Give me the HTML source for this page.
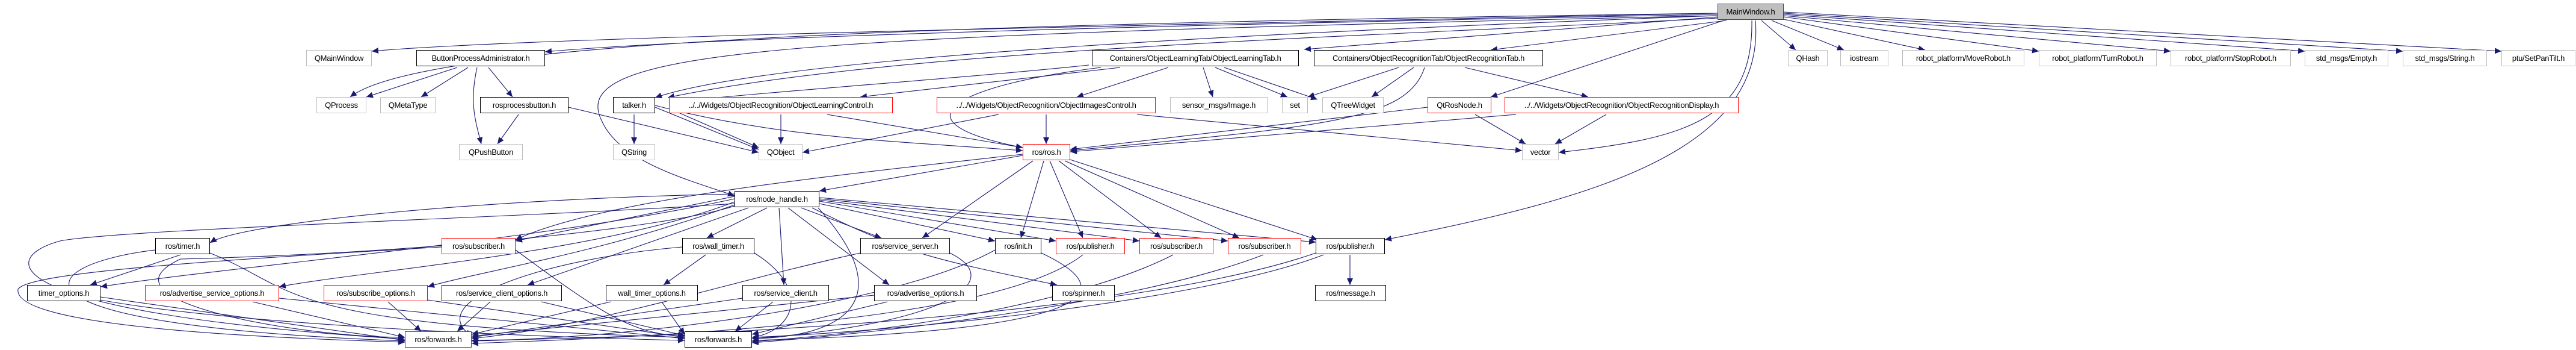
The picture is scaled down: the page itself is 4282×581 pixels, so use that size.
<!DOCTYPE html>
<html><head><meta charset="utf-8"><style>
body{margin:0;width:4282px;height:581px;background:#fff;position:relative;overflow:hidden;font-family:"Liberation Sans",sans-serif}
.n{position:absolute;height:27px;box-sizing:border-box;border:1px solid #000;background:#fff;display:flex;align-items:center;justify-content:center;font-size:13px;color:#000;white-space:nowrap;letter-spacing:-0.3px}
.g{border-color:#bfbfbf}.r{border-color:#f00}
svg{position:absolute;left:0;top:0}
</style></head><body>
<svg width="4282" height="581" viewBox="0 0 4282 581">
<defs><marker id="a" markerUnits="userSpaceOnUse" markerWidth="12" markerHeight="10" refX="11" refY="5" orient="auto"><path d="M0,0 L11,5 L0,10 z" fill="#191970"/></marker></defs>
<g fill="none" stroke="#191970" stroke-width="1.1" marker-end="url(#a)">
<path d="M2855,22 C2000,40 900,60 618,85"/>
<path d="M2855,22 C1500,40 700,70 582,161"/>
<path d="M2855,24 C2000,40 1200,60 906,86"/>
<path d="M2855,26 C2200,50 1300,90 1089,162"/>
<path d="M2855,26 C1300,60 940,80 1000,200 C1030,270 1150,300 1221,325"/>
<path d="M2856,28 L2168,82"/>
<path d="M2870,34 L2478,83"/>
<path d="M2865,34 L2478,161"/>
<path d="M2912,34 C2915,200 2800,230 2591,253"/>
<path d="M2918,34 C2935,250 2650,330 2302,398"/>
<path d="M2928,34 L2985,83"/>
<path d="M2945,34 L3065,83"/>
<path d="M2965,32 L3200,83"/>
<path d="M2965,28 L3389,85"/>
<path d="M2965,26 L3608,85"/>
<path d="M2965,24 L3831,85"/>
<path d="M2965,22 L3994,85"/>
<path d="M2965,20 L4158,85"/>
<path d="M2855,30 C2300,60 1500,80 1110,162"/>
<path d="M760,112 L609,161"/>
<path d="M778,112 L700,161"/>
<path d="M812,112 L852,161"/>
<path d="M793,112 C780,170 790,200 800,239"/>
<path d="M862,190 L827,239"/>
<path d="M945,178 L1261,253"/>
<path d="M1054,190 L1054,239"/>
<path d="M1089,178 L1261,248"/>
<path d="M1089,175 C1300,230 1500,235 1700,250"/>
<path d="M1862,112 L1430,161"/>
<path d="M1942,112 L1790,161"/>
<path d="M2000,112 L2016,161"/>
<path d="M2020,112 L2140,161"/>
<path d="M2035,112 L2190,165"/>
<path d="M1830,112 C1600,140 1470,200 1700,245"/>
<path d="M1810,108 C1600,130 1300,150 1112,170"/>
<path d="M2325,112 L2174,161"/>
<path d="M2350,112 L2280,161"/>
<path d="M2368,112 C2340,200 2200,210 1779,250"/>
<path d="M2435,112 L2640,161"/>
<path d="M1298,190 L1298,239"/>
<path d="M1375,190 L1700,245"/>
<path d="M1112,180 L1261,245"/>
<path d="M1660,190 L1334,253"/>
<path d="M1739,190 L1739,239"/>
<path d="M1890,190 L2530,250"/>
<path d="M2373,178 L1779,248"/>
<path d="M2452,190 L2536,239"/>
<path d="M2520,190 L1779,252"/>
<path d="M2670,190 L2585,239"/>
<path d="M1700,258 L1362,317"/>
<path d="M1700,256 C1400,290 1000,330 857,398"/>
<path d="M1717,267 L1533,395"/>
<path d="M1735,267 L1697,395"/>
<path d="M1745,267 L1800,395"/>
<path d="M1760,267 L1930,395"/>
<path d="M1770,267 L2060,395"/>
<path d="M1779,265 L2190,398"/>
<path d="M1221,322 C800,330 400,370 349,403"/>
<path d="M1221,326 L857,400"/>
<path d="M1275,345 L1175,395"/>
<path d="M1332,345 L1465,395"/>
<path d="M1362,338 L1654,400"/>
<path d="M1362,334 L1755,400"/>
<path d="M1362,332 L1894,400"/>
<path d="M1362,330 L2041,400"/>
<path d="M1362,328 L2187,402"/>
<path d="M1221,330 C900,400 400,440 167,476"/>
<path d="M1221,335 C1000,420 600,450 464,476"/>
<path d="M1221,340 C1000,420 800,450 711,476"/>
<path d="M1244,345 L877,473"/>
<path d="M1295,345 L1303,473"/>
<path d="M1310,345 L1478,473"/>
<path d="M1350,345 C1500,420 1550,430 1757,473"/>
<path d="M1221,338 C900,360 200,380 100,400 C-10,430 0,520 673,563"/>
<path d="M1221,342 C1100,380 700,420 300,430 C150,500 500,560 673,560"/>
<path d="M1360,345 C1500,500 1400,560 1250,562"/>
<path d="M300,423 L150,473"/>
<path d="M349,420 C500,480 450,540 1138,560"/>
<path d="M258,415 C50,440 -20,540 673,566"/>
<path d="M857,415 C1000,520 1050,555 1138,558"/>
<path d="M734,410 C400,430 50,450 30,480 C20,540 400,560 673,568"/>
<path d="M1173,423 L1103,473"/>
<path d="M1254,420 C1350,480 1320,550 1250,560"/>
<path d="M1134,410 C900,430 700,500 784,558"/>
<path d="M1430,420 C1200,470 1000,540 784,562"/>
<path d="M1579,420 C1680,470 1560,540 1250,562"/>
<path d="M1731,420 C1880,490 1800,550 1250,565"/>
<path d="M1654,415 C1500,500 1100,560 784,566"/>
<path d="M1800,423 C1700,500 1400,550 784,570"/>
<path d="M1950,423 C1800,500 1500,550 1250,567"/>
<path d="M2100,423 C1900,500 1500,550 1250,569"/>
<path d="M2200,423 C2000,500 1500,550 1250,560"/>
<path d="M2244,423 L2244,473"/>
<path d="M2187,420 C1900,520 1200,560 784,565"/>
<path d="M167,493 L673,565"/>
<path d="M167,498 C400,540 900,560 1138,565"/>
<path d="M420,501 L673,560"/>
<path d="M464,495 L1138,562"/>
<path d="M645,501 L700,550"/>
<path d="M711,498 L1138,560"/>
<path d="M815,501 L760,550"/>
<path d="M900,501 L1138,557"/>
<path d="M1015,501 L784,555"/>
<path d="M1100,501 L1138,555"/>
<path d="M1285,501 L1222,550"/>
<path d="M1234,495 L784,560"/>
<path d="M1475,501 L1250,555"/>
<path d="M1453,490 L784,558"/>
</g>
</svg>
<div class="n g" style="left:2855px;top:6px;width:110px;background:#bfbfbf;border-color:#404040">MainWindow.h</div>
<div class="n g" style="left:509px;top:83px;width:109px">QMainWindow</div>
<div class="n" style="left:692px;top:83px;width:214px">ButtonProcessAdministrator.h</div>
<div class="n" style="left:1815px;top:83px;width:344px">Containers/ObjectLearningTab/ObjectLearningTab.h</div>
<div class="n" style="left:2184px;top:83px;width:381px">Containers/ObjectRecognitionTab/ObjectRecognitionTab.h</div>
<div class="n g" style="left:2972px;top:83px;width:66px">QHash</div>
<div class="n g" style="left:3059px;top:83px;width:80px">iostream</div>
<div class="n g" style="left:3162px;top:83px;width:203px">robot_platform/MoveRobot.h</div>
<div class="n g" style="left:3389px;top:83px;width:196px">robot_platform/TurnRobot.h</div>
<div class="n g" style="left:3608px;top:83px;width:200px">robot_platform/StopRobot.h</div>
<div class="n g" style="left:3831px;top:83px;width:139px">std_msgs/Empty.h</div>
<div class="n g" style="left:3994px;top:83px;width:140px">std_msgs/String.h</div>
<div class="n g" style="left:4158px;top:83px;width:123px">ptu/SetPanTilt.h</div>
<div class="n g" style="left:526px;top:161px;width:83px">QProcess</div>
<div class="n g" style="left:632px;top:161px;width:92px">QMetaType</div>
<div class="n" style="left:798px;top:161px;width:147px">rosprocessbutton.h</div>
<div class="n" style="left:1019px;top:161px;width:70px">talker.h</div>
<div class="n r" style="left:1112px;top:161px;width:372px">../../Widgets/ObjectRecognition/ObjectLearningControl.h</div>
<div class="n r" style="left:1557px;top:161px;width:364px">../../Widgets/ObjectRecognition/ObjectImagesControl.h</div>
<div class="n g" style="left:1945px;top:161px;width:162px">sensor_msgs/Image.h</div>
<div class="n g" style="left:2131px;top:161px;width:43px">set</div>
<div class="n g" style="left:2198px;top:161px;width:102px">QTreeWidget</div>
<div class="n r" style="left:2373px;top:161px;width:106px">QtRosNode.h</div>
<div class="n r" style="left:2501px;top:161px;width:389px">../../Widgets/ObjectRecognition/ObjectRecognitionDisplay.h</div>
<div class="n g" style="left:763px;top:239px;width:106px">QPushButton</div>
<div class="n g" style="left:1019px;top:239px;width:70px">QString</div>
<div class="n g" style="left:1261px;top:239px;width:73px">QObject</div>
<div class="n r" style="left:1700px;top:239px;width:79px">ros/ros.h</div>
<div class="n g" style="left:2530px;top:239px;width:61px">vector</div>
<div class="n" style="left:1221px;top:317px;width:141px">ros/node_handle.h</div>
<div class="n" style="left:258px;top:395px;width:91px">ros/timer.h</div>
<div class="n r" style="left:734px;top:395px;width:123px">ros/subscriber.h</div>
<div class="n" style="left:1134px;top:395px;width:120px">ros/wall_timer.h</div>
<div class="n" style="left:1430px;top:395px;width:149px">ros/service_server.h</div>
<div class="n" style="left:1654px;top:395px;width:77px">ros/init.h</div>
<div class="n r" style="left:1755px;top:395px;width:115px">ros/publisher.h</div>
<div class="n r" style="left:1894px;top:395px;width:123px">ros/subscriber.h</div>
<div class="n r" style="left:2041px;top:395px;width:122px">ros/subscriber.h</div>
<div class="n" style="left:2187px;top:395px;width:115px">ros/publisher.h</div>
<div class="n" style="left:45px;top:473px;width:122px">timer_options.h</div>
<div class="n r" style="left:241px;top:473px;width:223px">ros/advertise_service_options.h</div>
<div class="n r" style="left:538px;top:473px;width:173px">ros/subscribe_options.h</div>
<div class="n" style="left:734px;top:473px;width:200px">ros/service_client_options.h</div>
<div class="n" style="left:1007px;top:473px;width:153px">wall_timer_options.h</div>
<div class="n" style="left:1234px;top:473px;width:144px">ros/service_client.h</div>
<div class="n" style="left:1453px;top:473px;width:171px">ros/advertise_options.h</div>
<div class="n" style="left:1749px;top:473px;width:104px">ros/spinner.h</div>
<div class="n" style="left:2186px;top:473px;width:118px">ros/message.h</div>
<div class="n r" style="left:673px;top:550px;width:111px">ros/forwards.h</div>
<div class="n" style="left:1138px;top:550px;width:112px">ros/forwards.h</div>
</body></html>
